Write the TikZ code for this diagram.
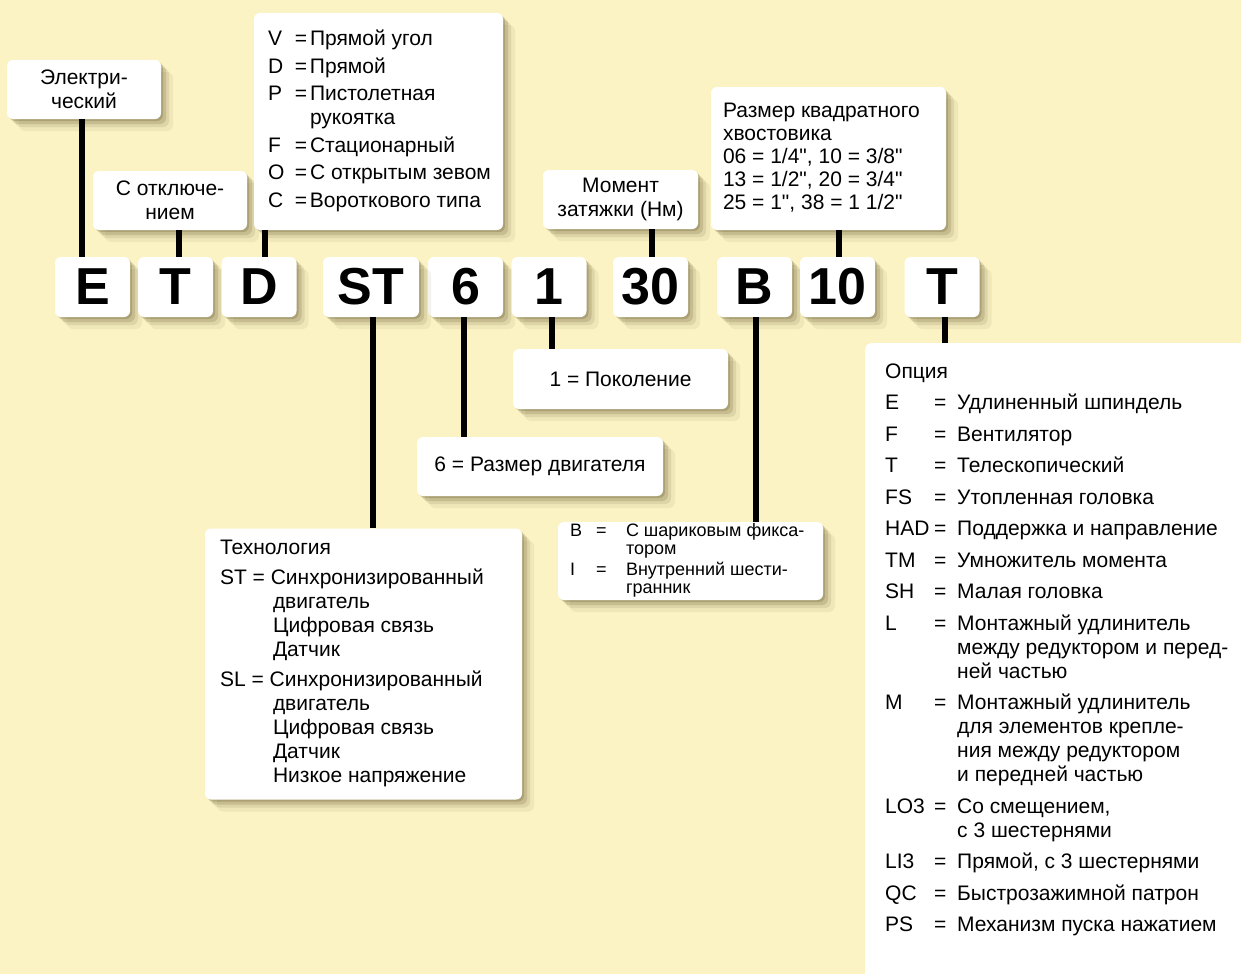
\documentclass[tikz,border=0pt]{standalone}
\usepackage{fontspec}
\setmainfont{Liberation Sans}[Ligatures=TeXOff]
\usepackage{tikz}
\usetikzlibrary{shadows}
\definecolor{bgcream}{HTML}{FBF3C4}
\definecolor{shadowc}{HTML}{5E5228}
\newcommand{\codekey}[2]{\makebox[#1][l]{#2}}
\newcommand{\leftlist}[2]{\makebox[#1][l]{\begin{tabular}{@{}l@{}}#2\end{tabular}}}

\begin{document}
\begin{tikzpicture}[x=1pt, y=-1pt,
  panel/.style={fill=white, rounded corners=6pt, inner sep=0pt,
    general shadow={shadow xshift=2pt, shadow yshift=-2pt, fill=shadowc, opacity=.25},
    general shadow={shadow xshift=5pt, shadow yshift=-5pt, fill=shadowc, opacity=.18},
    general shadow={shadow xshift=8pt, shadow yshift=-8pt, fill=shadowc, opacity=.12},
    general shadow={shadow xshift=12pt, shadow yshift=-12pt, fill=shadowc, opacity=.07},
    font=\fontsize{21}{24}\selectfont},
  code/.style={panel, minimum width=75pt, minimum height=60pt,
    font=\fontsize{52}{52}\selectfont\bfseries},
  link/.style={line width=6pt}]

  %% Background
  \clip (0,0) rectangle (1241,974);
  \fill[bgcream] (0,0) rectangle (1241,974);

  %% Upper labels
  \node[panel, minimum width=154pt, minimum height=59pt, align=center] (elec)
    at (84,89.5) {Электри-\\ческий};
  \node[panel, minimum width=154pt, minimum height=59pt, align=center] (tbrk)
    at (170,200.5) {С отключе-\\нием};
  \node[panel, minimum width=249pt, minimum height=217pt] (style) at (378.5,121.5)
    {\leftlist{221pt}{%
      \codekey{27pt}{V}\codekey{15pt}{=}Прямой угол\\[3.5pt]
      \codekey{27pt}{D}\codekey{15pt}{=}Прямой\\[3.5pt]
      \codekey{27pt}{P}\codekey{15pt}{=}Пистолетная\\
      \hspace*{42pt}рукоятка\\[3.5pt]
      \codekey{27pt}{F}\codekey{15pt}{=}Стационарный\\[3.5pt]
      \codekey{27pt}{O}\codekey{15pt}{=}С открытым зевом\\[3.5pt]
      \codekey{27pt}{C}\codekey{15pt}{=}Вороткового типа}};
  \node[panel, minimum width=155pt, minimum height=59pt, align=center] (torque)
    at (620.5,199.5) {Момент\\затяжки (Нм)};
  \node[panel, minimum width=235pt, minimum height=143pt,
    font=\fontsize{21}{23}\selectfont] (drive) at (828.5,158.5)
    {\leftlist{211pt}{Размер квадратного\\хвостовика\\06 = 1/4", 10 = 3/8"\\
      13 = 1/2", 20 = 3/4"\\25 = 1", 38 = 1 1/2"}};

  %% Model code
  \foreach \n/\x/\t in {kE/92.5/E, kT/175.5/T, kD/259/D, k6/465.5/6, k1/549/1,
                        k30/650.5/30, kB/754.5/B, k10/837.5/10, kTo/942/T}
    \node[code] (\n) at (\x,287) {\t};
  \node[code, minimum width=96pt] (kST) at (371,287) {ST};

  %% Lower labels
  \node[panel, minimum width=215pt, minimum height=60pt] (gen) at (620.5,379)
    {1 = Поколение};
  \node[panel, minimum width=246pt, minimum height=59pt] (motor) at (540,466.5)
    {6 = Размер двигателя};
  \node[panel, minimum width=265pt, minimum height=78pt,
    font=\fontsize{18}{18}\selectfont] (bit) at (690.5,561)
    {\leftlist{241pt}{%
      \codekey{26pt}{B}\codekey{30pt}{=}С шариковым фикса-\\
      \hspace*{56pt}тором\\[2pt]
      \codekey{26pt}{I}\codekey{30pt}{=}Внутренний шести-\\
      \hspace*{56pt}гранник}};
  \node[panel, minimum width=317pt, minimum height=271pt] (tech) at (363.5,664)
    {\leftlist{287pt}{%
      Технология\\[6pt]
      ST = Синхронизированный\\
      \hspace*{53pt}двигатель\\
      \hspace*{53pt}Цифровая связь\\
      \hspace*{53pt}Датчик\\[6pt]
      SL = Синхронизированный\\
      \hspace*{53pt}двигатель\\
      \hspace*{53pt}Цифровая связь\\
      \hspace*{53pt}Датчик\\
      \hspace*{53pt}Низкое напряжение}};
  \node[panel, anchor=north west, inner xsep=20pt, inner ysep=18pt] (opt)
    at (865,343)
    {\parbox[c][620pt][t]{360pt}{\begin{tabular}[t]{@{}l@{}}
      Опция\\[7.5pt]
      \codekey{49pt}{E}\codekey{23pt}{=}Удлиненный шпиндель\\[7.5pt]
      \codekey{49pt}{F}\codekey{23pt}{=}Вентилятор\\[7.5pt]
      \codekey{49pt}{T}\codekey{23pt}{=}Телескопический\\[7.5pt]
      \codekey{49pt}{FS}\codekey{23pt}{=}Утопленная головка\\[7.5pt]
      \codekey{49pt}{HAD}\codekey{23pt}{=}Поддержка и направление\\[7.5pt]
      \codekey{49pt}{TM}\codekey{23pt}{=}Умножитель момента\\[7.5pt]
      \codekey{49pt}{SH}\codekey{23pt}{=}Малая головка\\[7.5pt]
      \codekey{49pt}{L}\codekey{23pt}{=}Монтажный удлинитель\\
      \hspace*{72pt}между редуктором и перед-\\
      \hspace*{72pt}ней частью\\[7.5pt]
      \codekey{49pt}{M}\codekey{23pt}{=}Монтажный удлинитель\\
      \hspace*{72pt}для элементов крепле-\\
      \hspace*{72pt}ния между редуктором\\
      \hspace*{72pt}и передней частью\\[7.5pt]
      \codekey{49pt}{LO3}\codekey{23pt}{=}Со смещением,\\
      \hspace*{72pt}с 3 шестернями\\[7.5pt]
      \codekey{49pt}{LI3}\codekey{23pt}{=}Прямой, с 3 шестернями\\[7.5pt]
      \codekey{49pt}{QC}\codekey{23pt}{=}Быстрозажимной патрон\\[7.5pt]
      \codekey{49pt}{PS}\codekey{23pt}{=}Механизм пуска нажатием
    \end{tabular}}};

  %% Connectors
  \foreach \a/\b/\s in {kE/elec/-10.5pt, kT/tbrk/3.5pt, kD/style/6pt,
                        k30/torque/1.5pt, k10/drive/1.5pt}
    \draw[link] ([xshift=\s]\a.north) -- ([xshift=\s]\a.north |- \b.south);
  \foreach \a/\b/\s in {kST/tech/2pt, k6/motor/-1.5pt, k1/gen/3pt,
                        kB/bit/1.5pt, kTo/opt/3pt}
    \draw[link] ([xshift=\s]\a.south) -- ([xshift=\s]\a.south |- \b.north);
\end{tikzpicture}
\end{document}
